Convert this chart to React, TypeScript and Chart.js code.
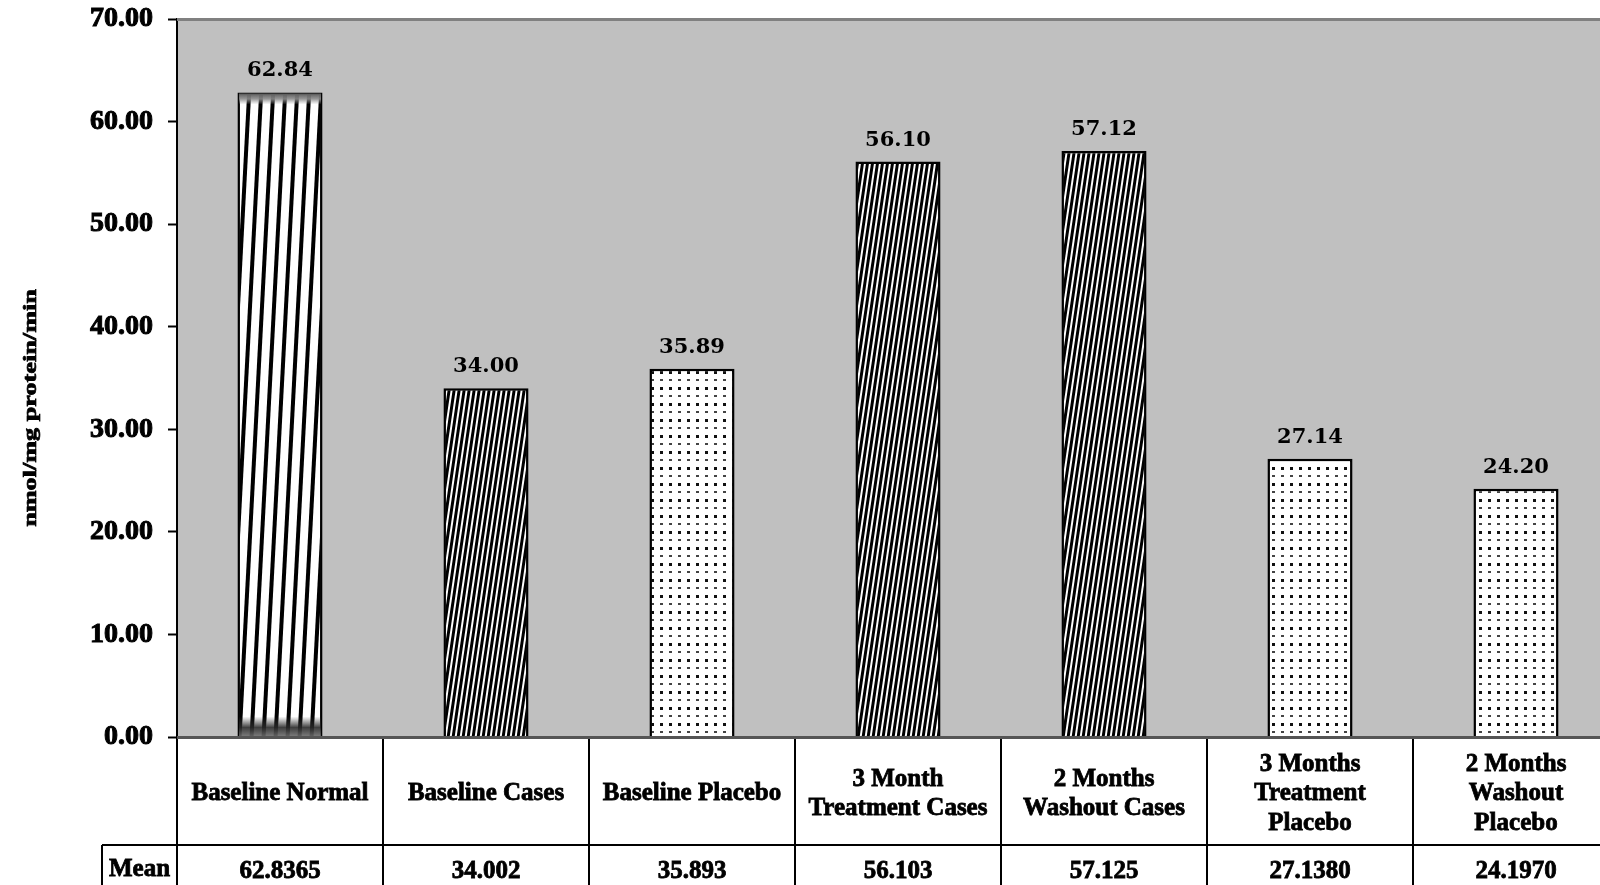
import React, { useEffect, useRef } from "react";
import { Chart, registerables } from "chart.js";

Chart.register(...registerables);

const categories: string[][] = [
  ["Baseline Normal"],
  ["Baseline Cases"],
  ["Baseline Placebo"],
  ["3 Month", "Treatment Cases"],
  ["2 Months", "Washout Cases"],
  ["3 Months", "Treatment", "Placebo"],
  ["2 Months", "Washout", "Placebo"],
];
const meanValues = [62.8365, 34.002, 35.893, 56.103, 57.125, 27.138, 24.197];
const meanTexts = ["62.8365", "34.002", "35.893", "56.103", "57.125", "27.1380", "24.1970"];
const barLabels = ["62.84", "34.00", "35.89", "56.10", "57.12", "27.14", "24.20"];
const rowHeader = "Mean";
const yTitle = "nmol/mg protein/min";
const yMin = 0;
const yMax = 70;
const yStep = 10;
const patternKinds = ["wide", "fine", "dots", "fine", "fine", "dots", "dots"];

function stripePattern(ctx: CanvasRenderingContext2D, period: number, thick: number, h: number) {
  const c = document.createElement("canvas");
  c.width = period;
  c.height = h;
  const g = c.getContext("2d")!;
  g.fillStyle = "#ffffff";
  g.fillRect(0, 0, period, h);
  g.fillStyle = "#000000";
  for (const off of [-period, 0, period]) {
    g.beginPath();
    g.moveTo(off, h);
    g.lineTo(off + thick, h);
    g.lineTo(off + thick + period, 0);
    g.lineTo(off + period, 0);
    g.closePath();
    g.fill();
  }
  return ctx.createPattern(c, "repeat")!;
}

function dotPattern(ctx: CanvasRenderingContext2D) {
  const c = document.createElement("canvas");
  c.width = 9;
  c.height = 16;
  const g = c.getContext("2d")!;
  g.fillStyle = "#ffffff";
  g.fillRect(0, 0, 9, 16);
  g.fillStyle = "#111111";
  g.fillRect(3, 3, 3, 3);
  g.fillStyle = "#444444";
  g.fillRect(3, 11, 3, 2);
  return ctx.createPattern(c, "repeat")!;
}

export default function App() {
  const ref = useRef<HTMLCanvasElement>(null);

  useEffect(() => {
    const canvas = ref.current!;
    const ctx = canvas.getContext("2d")!;
    const pats: Record<string, CanvasPattern> = {
      wide: stripePattern(ctx, 12, 4, 230),
      fine: stripePattern(ctx, 5, 3, 34),
      dots: dotPattern(ctx),
    };
    const serif = "'Liberation Serif', 'Times New Roman', serif";

    const heavyText = (c: CanvasRenderingContext2D, t: string, x: number, y: number) => {
      c.fillText(t, x, y);
      c.strokeText(t, x, y);
    };

    const decor = {
      id: "decor",
      beforeDraw(chart: any) {
        const { ctx, chartArea: a } = chart;
        ctx.save();
        ctx.fillStyle = "#c0c0c0";
        ctx.fillRect(a.left, a.top, a.right - a.left, a.bottom - a.top);
        ctx.restore();
      },
      afterDatasetsDraw(chart: any) {
        const { ctx } = chart;
        const el = chart.getDatasetMeta(0).data[0];
        if (!el) return;
        const p = el.getProps(["x", "y", "base", "width"], true);
        const l = p.x - p.width / 2 + 1.5;
        const w = p.width - 3;
        ctx.save();
        let g = ctx.createLinearGradient(0, p.y + 1, 0, p.y + 12);
        g.addColorStop(0, "rgba(90,90,90,1)");
        g.addColorStop(0.5, "rgba(140,140,140,0.9)");
        g.addColorStop(1, "rgba(160,160,160,0)");
        ctx.fillStyle = g;
        ctx.fillRect(l, p.y + 1, w, 11);
        g = ctx.createLinearGradient(0, p.base - 20, 0, p.base);
        g.addColorStop(0, "rgba(60,60,60,0)");
        g.addColorStop(0.55, "rgba(40,40,40,0.9)");
        g.addColorStop(1, "rgba(110,110,110,0.9)");
        ctx.fillStyle = g;
        ctx.fillRect(l, p.base - 20, w, 20);
        ctx.restore();
      },
      afterDraw(chart: any) {
        const { ctx, chartArea: a } = chart;
        const n = categories.length;
        const colW = (a.right - a.left) / n;
        ctx.save();
        // top border of plot
        ctx.strokeStyle = "#808080";
        ctx.lineWidth = 3;
        ctx.beginPath();
        ctx.moveTo(a.left, a.top + 0.5);
        ctx.lineTo(a.right, a.top + 0.5);
        ctx.stroke();
        // table
        const rowTop = a.bottom;
        const meanTop = 845;
        const tableBottom = 890;
        ctx.strokeStyle = "#000";
        ctx.lineWidth = 2;
        ctx.beginPath();
        for (let i = 0; i <= n; i++) {
          const x = Math.round(a.left + i * colW);
          ctx.moveTo(x, rowTop);
          ctx.lineTo(x, tableBottom);
        }
        ctx.moveTo(102, meanTop);
        ctx.lineTo(a.right, meanTop);
        ctx.moveTo(102, meanTop);
        ctx.lineTo(102, tableBottom);
        ctx.stroke();
        ctx.strokeStyle = "#555";
        ctx.lineWidth = 3;
        ctx.beginPath();
        ctx.moveTo(a.left, rowTop + 0.5);
        ctx.lineTo(a.right, rowTop + 0.5);
        ctx.stroke();

        ctx.fillStyle = "#000";
        ctx.strokeStyle = "#000";
        ctx.lineWidth = 0.8;
        ctx.textAlign = "center";
        ctx.textBaseline = "middle";
        ctx.font = `bold 25px ${serif}`;
        const lh = 29.5;
        const cy = 794;
        categories.forEach((lines, i) => {
          const cx = a.left + (i + 0.5) * colW;
          lines.forEach((t, j) => {
            heavyText(ctx, t, cx, cy + (j - (lines.length - 1) / 2) * lh);
          });
          heavyText(ctx, meanTexts[i], cx, 872);
        });
        heavyText(ctx, rowHeader, 139.5, 870);

        // data labels
        ctx.font = `bold 21px 'DejaVu Serif', serif`;
        ctx.textBaseline = "alphabetic";
        const meta = chart.getDatasetMeta(0);
        meta.data.forEach((el: any, i: number) => {
          ctx.fillText(barLabels[i], el.x, el.y - 16);
        });

        // y title
        ctx.save();
        ctx.translate(31, 408);
        ctx.rotate(-Math.PI / 2);
        ctx.scale(1.38, 1);
        ctx.font = `bold 19px ${serif}`;
        ctx.textBaseline = "middle";
        ctx.lineWidth = 0.7;
        heavyText(ctx, yTitle, 0, 0);
        ctx.restore();
        ctx.restore();
      },
    };

    const chart = new Chart(canvas, {
      type: "bar",
      data: {
        labels: categories.map((c) => c.join(" ")),
        datasets: [
          {
            data: meanValues,
            backgroundColor: patternKinds.map((k) => pats[k]),
            borderColor: "#000",
            borderWidth: 2.5,
            barPercentage: 0.413,
            categoryPercentage: 1,
          },
        ],
      },
      options: {
        responsive: false,
        animation: false,
        devicePixelRatio: 1,
        layout: { padding: { top: 19, right: 1, bottom: 148, left: 0 } },
        plugins: { legend: { display: false }, tooltip: { enabled: false } },
        scales: {
          x: { display: false },
          y: {
            min: yMin,
            max: yMax,
            afterFit: (s: any) => {
              s.width = 177;
              s.paddingTop = 0;
              s.paddingBottom = 0;
            },
            ticks: {
              stepSize: yStep,
              color: "#000",
              padding: 15,
              textStrokeColor: "#000",
              textStrokeWidth: 1,
              font: { family: serif, size: 28, weight: "bold" },
              callback: (v: any) => Number(v).toFixed(2),
            },
            grid: {
              drawOnChartArea: false,
              drawTicks: true,
              tickLength: 9,
              tickColor: "#000",
              tickWidth: 2,
            },
            border: { display: true, color: "#000", width: 2 },
          },
        },
      },
      plugins: [decor],
    } as any);
    return () => chart.destroy();
  }, []);

  return (
    <div
      style={{
        position: "fixed",
        left: 0,
        top: 0,
        width: 1600,
        height: 885,
        overflow: "hidden",
        background: "#fff",
      }}
    >
      <canvas ref={ref} width={1620} height={885} style={{ display: "block", width: 1620, height: 885 }} />
    </div>
  );
}
